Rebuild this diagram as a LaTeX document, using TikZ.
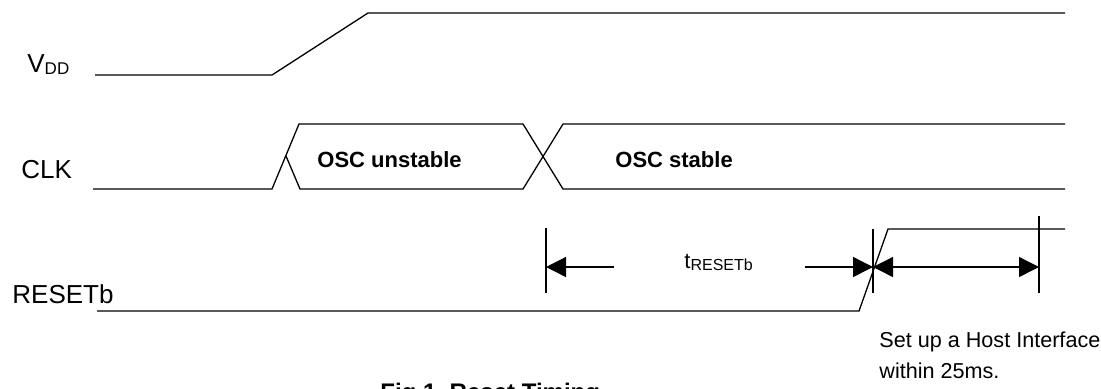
\documentclass[tikz,border=0pt]{standalone}
\usepackage{fontspec}
\setmainfont{Liberation Sans}
\usetikzlibrary{arrows.meta}
\tikzstyle{wave} = [draw, line width=0.65pt, line join=miter]
\tikzstyle{tick} = [draw, line width=0.65pt]
\tikzstyle{dimto} = [draw, line width=0.65pt, -{Triangle[length=10pt,width=10pt]}]
\tikzstyle{dimboth} = [draw, line width=0.65pt, {Triangle[length=10pt,width=10pt]}-{Triangle[length=10pt,width=10pt]}]
\tikzstyle{sig} = [inner sep=0pt, anchor=base west, font=\fontsize{13}{15}\selectfont]
\tikzstyle{osc} = [inner sep=0pt, anchor=base west, font=\bfseries\fontsize{11}{13}\selectfont]
\tikzstyle{note} = [inner sep=0pt, anchor=base west, font=\fontsize{10.8}{13}\selectfont]
\tikzstyle{caption} = [inner sep=0pt, anchor=base west, font=\bfseries\fontsize{12}{14}\selectfont]

\begin{document}
\begin{tikzpicture}[x=0.5pt,y=-0.5pt]
  \useasboundingbox (0,0) rectangle (1101,388);

  % signal names
  \node [sig] (vddlbl) at (27,72) {V\raisebox{-1.3pt}{\fontsize{8.5}{10}\selectfont DD}};
  \node [sig] (clklbl) at (21,178) {CLK};
  \node [sig] (rstlbl) at (12,303) {RESETb};

  % VDD
  \coordinate (vdd0) at (95,75);
  \coordinate (vdd1) at (272,75);
  \coordinate (vdd2) at (368,13);
  \coordinate (vdd3) at (1065,13);
  \path [wave] (vdd0) -- (vdd1) -- (vdd2) -- (vdd3);

  % CLK
  \coordinate (clk0) at (93,189);
  \coordinate (clk1) at (272,189);
  \coordinate (clk2) at (299,124);
  \coordinate (clk3) at (286,156);
  \coordinate (clk4) at (300,189);
  \coordinate (clk5) at (523,124);
  \coordinate (clk6) at (523,189);
  \coordinate (clk7) at (563,124);
  \coordinate (clk8) at (563,189);
  \coordinate (clk9) at (1065,124);
  \coordinate (clk10) at (1065,189);
  \path [wave] (clk0) -- (clk1) -- (clk2) -- (clk5) -- (clk8) -- (clk10);
  \path [wave] (clk3) -- (clk4) -- (clk6) -- (clk7) -- (clk9);
  \node [osc] (unstable) at (317,167) {OSC unstable};
  \node [osc] (stable) at (615,167) {OSC stable};

  % RESETb
  \coordinate (rst0) at (97,311);
  \coordinate (rst1) at (859,311);
  \coordinate (rst2) at (888,229);
  \coordinate (rst3) at (1065,229);
  \path [wave] (rst0) -- (rst1) -- (rst2) -- (rst3);

  % timing marks
  \coordinate (tka0) at (546,228);
  \coordinate (tka1) at (546,293);
  \coordinate (tkb0) at (873,229);
  \coordinate (tkb1) at (873,293);
  \coordinate (tkc0) at (1039,216);
  \coordinate (tkc1) at (1039,293);
  \path [tick] (tka0) -- (tka1);
  \path [tick] (tkb0) -- (tkb1);
  \path [tick] (tkc0) -- (tkc1);

  \coordinate (ara) at (546,267);
  \coordinate (ara2) at (614,267);
  \coordinate (arb2) at (805,267);
  \coordinate (arb) at (873,267);
  \coordinate (arc) at (1039,267);
  \path [dimto] (ara2) -- (ara);
  \path [dimto] (arb2) -- (arb);
  \path [dimboth] (arb) -- (arc);
  \node [inner sep=0pt, anchor=base west] (treset) at (684,268)
    {\fontsize{11}{13}\selectfont t\raisebox{-1pt}{\fontsize{8}{9}\selectfont RESETb}};

  % notes
  \node [note] (note1) at (879,347) {Set up a Host Interface};
  \node [note] (note2) at (879,378) {within 25ms.};
  \node [caption] (fig) at (380,400) {Fig.1\ \ Reset Timing};
\end{tikzpicture}
\end{document}
